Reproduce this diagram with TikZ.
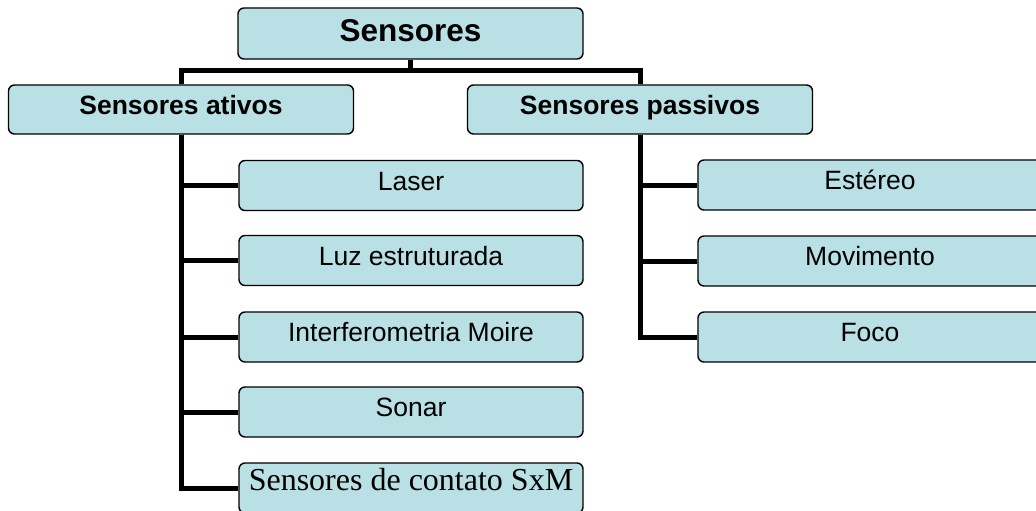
\documentclass[tikz,border=0pt]{standalone}
\usepackage{fontspec}
\setmainfont{Liberation Sans}
\newfontfamily\serifa{Liberation Serif}
\usepackage{tikz}
\usetikzlibrary{positioning}

\definecolor{azulclaro}{RGB}{185,224,228}

\tikzset{
    caixa/.style={draw=black, line width=1.4pt, fill=azulclaro, rounded corners=6pt,
        inner sep=0pt, align=center},
    raizbox/.style={caixa, minimum width=345pt, minimum height=51pt,
        text height=24pt, text depth=8.4pt,
        font=\fontsize{31.5}{36}\selectfont\bfseries},
    grupo/.style={caixa, minimum width=345pt, minimum height=49pt,
        text height=20pt, text depth=11pt,
        font=\fontsize{26.5}{30}\selectfont\bfseries},
    folha/.style={caixa, minimum width=344pt, minimum height=50pt,
        text height=20pt, text depth=11pt,
        font=\fontsize{26.5}{30}\selectfont},
    ligacao/.style={line width=5pt}
}

\begin{document}
\begin{tikzpicture}[x=1pt,y=-1pt]
        \useasboundingbox (0,0) rectangle (1036,511);

        % Root and the two groups
        \node[raizbox] (raiz) at (410.5,33.5) {Sensores};
        \node[grupo] (ativos) at (181,109.5) {Sensores ativos};
        \node[grupo] (passivos) at (640,109.5) {Sensores passivos};

        % Active sensors
        \node[folha] (laser) at (411,185.5) {Laser};
        \node[folha] (luz) at (411,260.5) {Luz estruturada};
        \node[folha] (moire) at (411,337) {Interferometria Moire};
        \node[folha] (sonar) at (411,412) {Sonar};
        \node[folha, text height=22pt, text depth=17.8pt,
            font=\serifa\fontsize{32}{36}\selectfont] (contato) at (411,488) {Sensores de contato SxM};

        % Passive sensors
        \node[folha] (estereo) at (870,185) {Estéreo};
        \node[folha] (movimento) at (870,261) {Movimento};
        \node[folha] (foco) at (870,337) {Foco};

        % Connectors
        \coordinate (barra) at (410.5,71);
        \draw[ligacao] (raiz.south) -- (barra);
        \draw[ligacao] (barra) -| (ativos.north);
        \draw[ligacao] (barra) -| (passivos.north);
        \foreach \f in {laser,luz,moire,sonar,contato}
            \draw[ligacao] (ativos.south) |- (\f.west);
        \foreach \f in {estereo,movimento,foco}
            \draw[ligacao] (passivos.south) |- (\f.west);
    \end{tikzpicture}
\end{document}
